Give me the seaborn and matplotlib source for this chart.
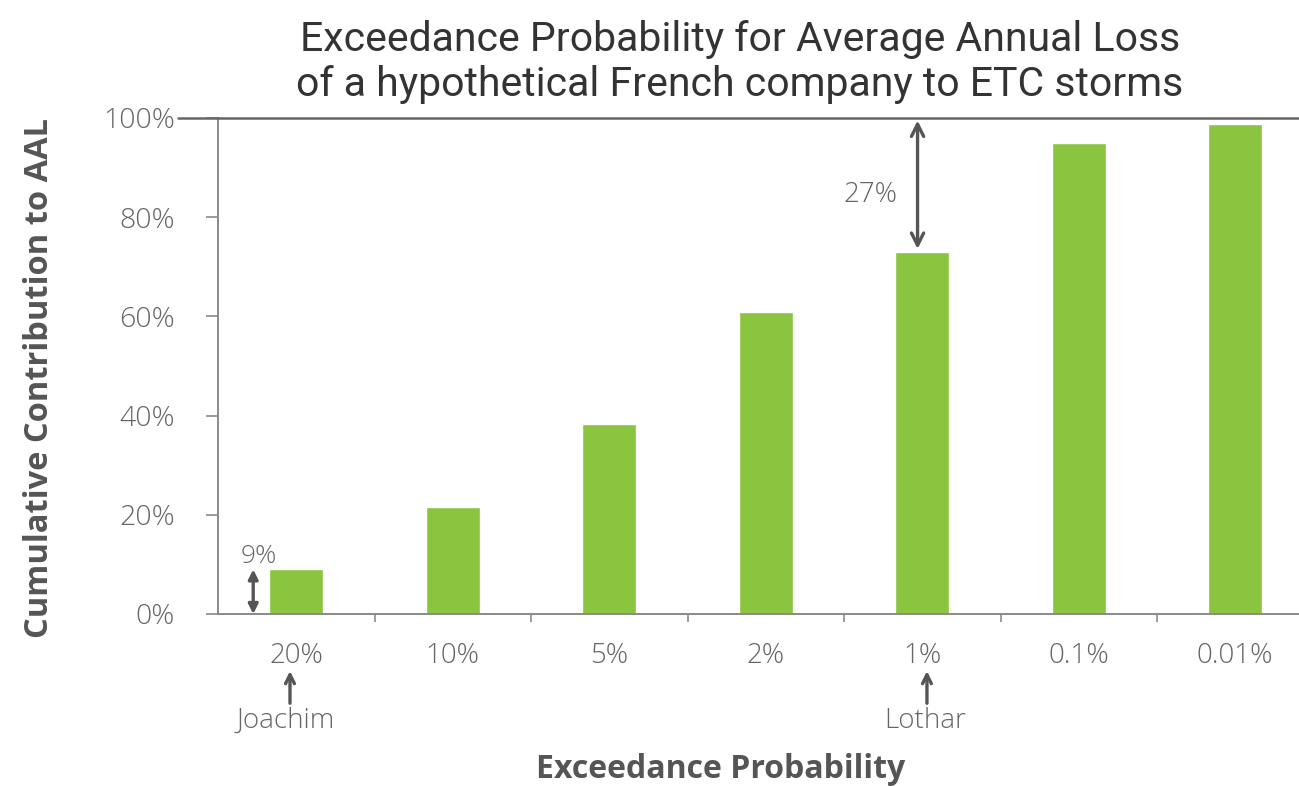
import matplotlib
matplotlib.use("Agg")
import matplotlib.pyplot as plt
from matplotlib.lines import Line2D
import seaborn as sns
import pandas as pd

# Exceedance probability buckets and cumulative contribution to AAL (%)
probabilities = ["20%", "10%", "5%", "2%", "1%", "0.1%", "0.01%"]
cumulative_aal = [9, 21.5, 38.3, 60.8, 73, 95, 98.8]
y_ticks = [0, 20, 40, 60, 80, 100]
y_tick_labels = ["0%", "20%", "40%", "60%", "80%", "100%"]

df = pd.DataFrame({"prob": probabilities, "aal": cumulative_aal})

sns.set_theme(style="white")
plt.rcParams["font.family"] = ["Open Sans", "DejaVu Sans"]

W, H = 1299, 786
fig = plt.figure(figsize=(W / 100, H / 100), dpi=100)
ax = fig.add_axes([218 / W, 1 - 614 / H, (W - 218) / W, (614 - 118) / H])

bar_color = "#8bc43f"
sns.barplot(data=df, x="prob", y="aal", color=bar_color, width=0.345,
            saturation=1, ax=ax)

ax.set_xlim(-0.5, -0.5 + (W - 218) / 156.5)
ax.set_ylim(0, 100)

# axes styling
axis_grey = "#8a8a8a"
ax.spines["right"].set_visible(False)
for side in ["left", "bottom", "top"]:
    ax.spines[side].set_color(axis_grey)
    ax.spines[side].set_linewidth(1.4)
ax.spines["top"].set_color("#666666")
ax.spines["top"].set_linewidth(1.8)

tick_color = "#666666"
ax.set_yticks(y_ticks)
ax.set_yticklabels(y_tick_labels)
ax.tick_params(axis="y", which="major", direction="out", length=9, width=1.2,
               color=axis_grey, pad=22, labelsize=20.5, labelcolor=tick_color,
               left=True)
ax.tick_params(axis="x", which="major", length=0, pad=20, labelsize=20,
               labelcolor=tick_color, bottom=True)
for lbl in ax.get_xticklabels() + ax.get_yticklabels():
    lbl.set_fontweight("light")

# category separators on the x axis
ax.set_xticks([i + 0.5 for i in range(len(probabilities) - 1)], minor=True)
ax.tick_params(axis="x", which="minor", direction="out", length=6, width=1.2,
               color=axis_grey, bottom=True)

# longer lead-in at the 100% line
ax.add_line(Line2D([-0.037, 0], [1, 1], transform=ax.transAxes,
                   color="#666666", linewidth=1.8, clip_on=False))

ax.set_xlabel("Exceedance Probability", fontsize=23, fontweight="bold",
              color="#555555", va="center")
ax.xaxis.set_label_coords((721 - 218) / (W - 218), -(770 - 614) / 496)
ax.set_ylabel("Cumulative Contribution to AAL", fontsize=23.5,
              fontweight="bold", color="#555555", va="center")
ax.yaxis.set_label_coords(-(218 - 40) / (W - 218), (614 - 378) / 496)

fig.suptitle("Exceedance Probability for Average Annual Loss\n"
             "of a hypothetical French company to ETC storms",
             x=740 / W, y=1 - 20 / H, fontsize=29.5, color="#333333",
             fontfamily="Roboto", linespacing=1.2, va="top")

arrow_grey = "#555555"
# 9% span for the 20% bucket
ax.annotate("", xy=(-0.275, 0), xytext=(-0.275, cumulative_aal[0]),
            arrowprops=dict(arrowstyle="<|-|>", color=arrow_grey, lw=2.4,
                            mutation_scale=14, shrinkA=0, shrinkB=0))
ax.text(-0.24, 11.5, "9%", ha="center", va="center", fontsize=19,
        color=tick_color, fontweight="light")

# 27% gap between the 1% bucket and 100%
ax.annotate("", xy=(3.97, cumulative_aal[4] + 0.6), xytext=(3.97, 99.5),
            arrowprops=dict(arrowstyle="<->", color=arrow_grey, lw=2.4,
                            mutation_scale=22, shrinkA=0, shrinkB=0))
ax.text(3.67, 84.5, f"{100 - cumulative_aal[4]:.0f}%", ha="center",
        va="center", fontsize=20, color=tick_color, fontweight="light")

# storm event markers below the axis
xt = ax.get_xaxis_transform()
for idx, name in [(0, "Joachim"), (4, "Lothar")]:
    ax_x = idx - 0.04 if idx == 0 else idx + 0.03
    ax.annotate("", xy=(ax_x, -0.115), xytext=(ax_x, -0.18),
                xycoords=xt, textcoords=xt,
                arrowprops=dict(arrowstyle="->", color=arrow_grey, lw=2.4,
                                mutation_scale=16, shrinkA=0, shrinkB=0))
    ax.text(idx - 0.07 if idx == 0 else idx + 0.02, -0.215, name,
            transform=xt, ha="center", va="center", fontsize=20,
            color=tick_color, fontweight="light")

fig.savefig("out.png", dpi=100)
